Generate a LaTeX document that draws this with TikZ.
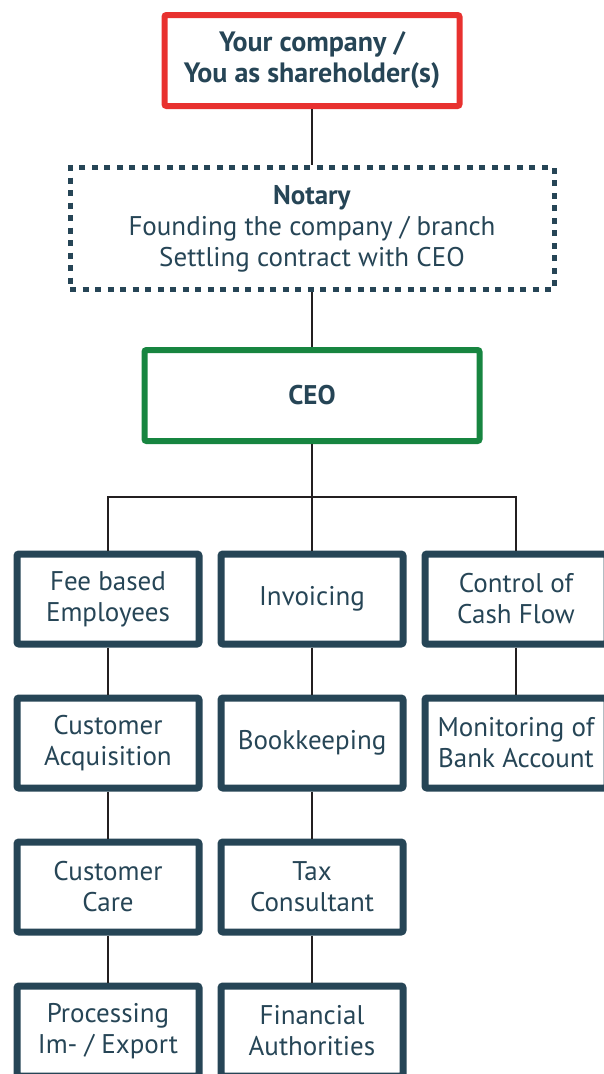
\documentclass[tikz,border=0pt]{standalone}
\usepackage{fontspec}
\setmainfont{PT Sans}
\usetikzlibrary{positioning}

\definecolor{boxblue}{HTML}{264556}
\definecolor{ownerred}{HTML}{E8312F}
\definecolor{ceogreen}{HTML}{178540}
\definecolor{linkdark}{HTML}{231F20}

\begin{document}
\begin{tikzpicture}[x=1pt,y=-1pt,
    every node/.style={font=\fontsize{27}{31}\selectfont, text=boxblue, align=center},
    taskbox/.style={draw=boxblue, line width=7pt, rounded corners=2pt,
                    minimum width=182pt, minimum height=90pt},
    link/.style={draw=linkdark, line width=2pt},
    node distance=47pt]

    % picture frame
    \useasboundingbox (0,0) rectangle (604,1074);

    % top of the chain
    \node[draw=ownerred, line width=6pt, rounded corners=2pt,
          minimum width=295pt, minimum height=91pt,
          font=\fontsize{28}{31}\selectfont\bfseries] (owner) at (312,60.5)
          {Your company /\\You as shareholder(s)};
    \node[draw=boxblue, line width=5pt, dash pattern=on 6pt off 6.5pt,
          minimum width=484pt, minimum height=122pt] (notary) at (312,228.5)
          {\textbf{Notary}\\Founding the company / branch\\Settling contract with CEO};
    \node[draw=ceogreen, line width=6pt, rounded corners=2pt,
          minimum width=335pt, minimum height=91pt,
          font=\fontsize{27}{31}\selectfont\bfseries] (ceo) at (312,395.5) {CEO};

    % first row
    \node[taskbox] (fee) at (108,599) {Fee based\\Employees};
    \node[taskbox] (invoice) at (312,599) {Invoicing};
    \node[taskbox] (cash) at (516,599) {Control of\\Cash Flow};

    % columns
    \node[taskbox, below=of fee] (acquire) {Customer\\Acquisition};
    \node[taskbox, below=of acquire] (care) {Customer\\Care};
    \node[taskbox, below=of care] (export) {Processing\\Im- / Export};

    \node[taskbox, below=of invoice] (books) {Bookkeeping};
    \node[taskbox, below=of books] (tax) {Tax\\Consultant};
    \node[taskbox, below=of tax] (finance) {Financial\\Authorities};

    \node[taskbox, below=of cash] (bank) {Monitoring of\\Bank Account};

    % connectors
    \coordinate (bus) at (312,497);
    \draw[link] (owner) -- (notary);
    \draw[link] (notary) -- (ceo);
    \draw[link] (ceo) -- (bus);
    \draw[link] (bus) -| (fee);
    \draw[link] (bus) -| (cash);
    \draw[link] (bus) -- (invoice);

    \draw[link] (fee) -- (acquire);
    \draw[link] (acquire) -- (care);
    \draw[link] (care) -- (export);
    \draw[link] (invoice) -- (books);
    \draw[link] (books) -- (tax);
    \draw[link] (tax) -- (finance);
    \draw[link] (cash) -- (bank);
\end{tikzpicture}
\end{document}
